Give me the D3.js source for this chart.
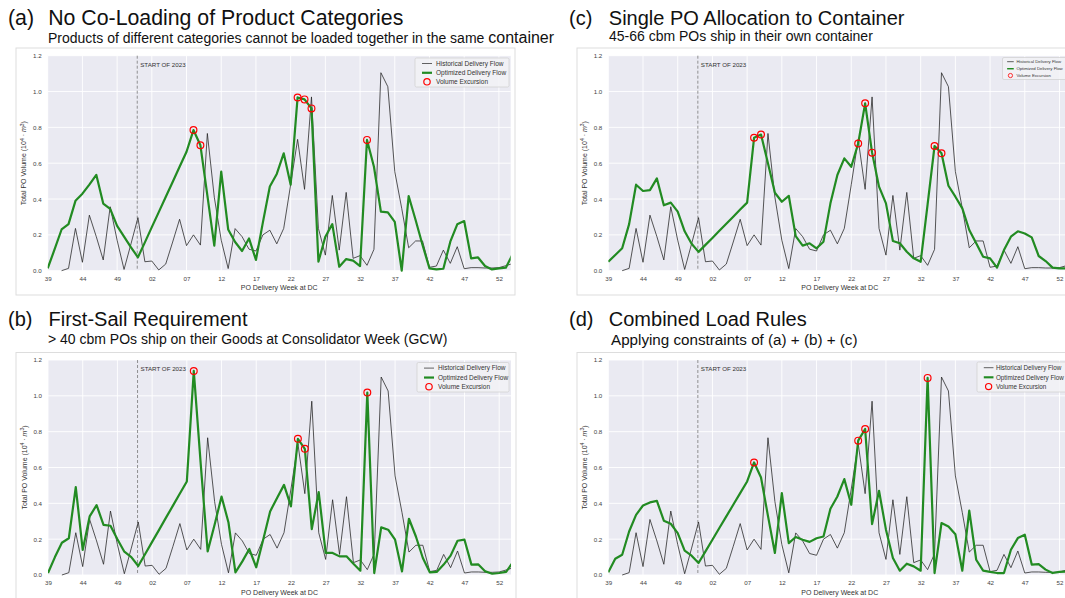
<!DOCTYPE html>
<html>
<head>
<meta charset="utf-8">
<script src="https://cdn.jsdelivr.net/npm/d3@7"></script>
<style>
  body { margin: 0; background: #fff; }
  text { font-family: "Liberation Sans", Arial, sans-serif; }
</style>
</head>
<body>
<svg id="chart" width="1065" height="598"></svg>
<script>
// x axis: weekly index, week 39 of 2022 = 0. labels every 5th week
let tickLabels = ["39", "44", "49", "02", "07", "12", "17", "22", "27", "32", "37", "42", "47", "52"];
let yTicks = [0, 0.2, 0.4, 0.6, 0.8, 1.0, 1.2];
let startOf2023 = 12.9;

// historical delivery flow (same in every panel), 10^4 m3
let historical = [null, null, 0.0, 0.013, 0.236, 0.047, 0.31, 0.19, 0.06, 0.357,
  0.17, 0.007, 0.15, 0.296, 0.05, 0.054, 0.004, 0.037, 0.16, 0.287,
  0.14, 0.2, 0.143, 0.766, 0.41, 0.17, 0.012, 0.235, 0.19, 0.12,
  0.11, 0.2, 0.226, 0.15, 0.236, 0.48, 0.733, 0.454, 0.97, 0.236,
  0.087, 0.42, 0.115, 0.437, 0.069, 0.084, 0.03, 0.119, 1.105, 1.027,
  0.553, 0.348, 0.128, 0.166, 0.166, 0.019, 0.026, 0.115, 0.041, 0.134,
  0.011, 0.017, 0.017, 0.015, 0.015, 0.017, 0.028, 0.04];

// optimized delivery flow per scenario
let optA = [0.013, 0.12, 0.23, 0.26, 0.39, 0.43, 0.48, 0.535, 0.375, 0.345,
  0.25, 0.19, 0.13, 0.075, 0.158, 0.243, 0.327, 0.411, 0.495, 0.58,
  0.664, 0.785, 0.70, 0.42, 0.14, 0.553, 0.23, 0.16, 0.11, 0.18,
  0.06, 0.27, 0.47, 0.54, 0.655, 0.48, 0.967, 0.956, 0.906, 0.05,
  0.19, 0.26, 0.022, 0.065, 0.056, 0.026, 0.73, 0.58, 0.33, 0.326,
  0.273, 0.0, 0.417, 0.283, 0.143, 0.013, 0.007, 0.011, 0.162, 0.259,
  0.277, 0.069, 0.074, 0.026, 0.007, 0.013, 0.017, 0.093];

let optB = [0.011, 0.1, 0.18, 0.205, 0.49, 0.14, 0.327, 0.39, 0.28, 0.275,
  0.2, 0.13, 0.1, 0.05, 0.117, 0.185, 0.252, 0.32, 0.387, 0.455,
  0.522, 1.139, 0.62, 0.132, 0.28, 0.438, 0.293, 0.015, 0.076, 0.145,
  0.043, 0.197, 0.355, 0.43, 0.503, 0.383, 0.76, 0.704, 0.256, 0.463,
  0.123, 0.123, 0.104, 0.104, 0.063, 0.024, 1.018, 0.011, 0.266, 0.253,
  0.197, 0.02, 0.314, 0.215, 0.095, 0.015, 0.017, 0.058, 0.108, 0.191,
  0.197, 0.058, 0.059, 0.02, 0.007, 0.011, 0.017, 0.073];

let optC = [0.05, 0.088, 0.125, 0.26, 0.48, 0.445, 0.45, 0.515, 0.365, 0.38,
  0.33, 0.22, 0.15, 0.105, 0.144, 0.183, 0.223, 0.262, 0.301, 0.341,
  0.38, 0.742, 0.76, 0.6, 0.435, 0.385, 0.418, 0.193, 0.14, 0.153,
  0.125, 0.162, 0.376, 0.534, 0.627, 0.58, 0.71, 0.934, 0.659, 0.469,
  0.376, 0.166, 0.153, 0.106, 0.069, 0.05, 0.37, 0.696, 0.655, 0.474,
  0.413, 0.348, 0.227, 0.153, 0.078, 0.069, 0.017, 0.115, 0.19, 0.22,
  0.208, 0.186, 0.082, 0.054, 0.017, 0.013, 0.013, 0.02];

let optD = [0.015, 0.091, 0.113, 0.243, 0.336, 0.388, 0.405, 0.414, 0.303, 0.286,
  0.234, 0.136, 0.108, 0.067, 0.132, 0.197, 0.262, 0.327, 0.392, 0.457,
  0.522, 0.628, 0.544, 0.33, 0.123, 0.457, 0.178, 0.212, 0.197, 0.185,
  0.205, 0.215, 0.37, 0.438, 0.535, 0.392, 0.75, 0.815, 0.284, 0.47,
  0.253, 0.095, 0.024, 0.063, 0.048, 0.024, 1.1, 0.011, 0.29, 0.271,
  0.228, 0.024, 0.359, 0.085, 0.024, 0.017, 0.011, 0.011, 0.141, 0.206,
  0.225, 0.058, 0.061, 0.03, 0.011, 0.017, 0.02, 0.04];

// weeks flagged as volume excursions
let excA = [21, 22, 36, 37, 38, 46];
let excB = [21, 36, 37, 46];
let excC = [21, 22, 36, 37, 38, 47, 48];
let excD = [21, 36, 37, 46];

let legendLabels = ["Historical Delivery Flow", "Optimized Delivery Flow", "Volume Excursion"];

let panels = [
  {tag: "(a)", title: "No Co-Loading of Product Categories", titleFs: 21.3,
   sub: "Products of different categories cannot be loaded together in the same ", subBig: "container",
   opt: optA, exc: excA, left: 47.7, top: 55.7, box: [16, 48, 499, 247], titleY: 25, subY: 43, subFs: 14, subX: 48,
   legend: {x: 415, y: 58, w: 94, h: 29, fs: 6.5, tx: 21}},
  {tag: "(b)", title: "First-Sail Requirement", titleFs: 20,
   sub: "> 40 cbm POs ship on their Goods at Consolidator Week (GCW)", subBig: "",
   opt: optB, exc: excB, left: 48, top: 360, box: [16, 352.5, 500, 250], titleY: 326, subY: 344, subFs: 14, subX: 48,
   legend: {x: 417, y: 362.5, w: 92, h: 29.5, fs: 6.5, tx: 21}},
  {tag: "(c)", title: "Single PO Allocation to Container", titleFs: 20,
   sub: "45-66 cbm POs ship in their own container", subBig: "",
   opt: optC, exc: excC, left: 608.3, top: 55.7, box: [577, 48, 499, 247], titleY: 25, subY: 40.5, subFs: 14, subX: 609,
   legend: {x: 1002.5, y: 57.5, w: 70, h: 22, fs: 4.3, tx: 21}},
  {tag: "(d)", title: "Combined Load Rules", titleFs: 20,
   sub: "Applying constraints of (a) + (b) + (c)", subBig: "",
   opt: optD, exc: excD, left: 608.3, top: 360, box: [577, 352.5, 499, 250], titleY: 326, subY: 344.5, subFs: 15.2, subX: 611,
   legend: {x: 977, y: 362, w: 94, h: 30, fs: 6.3, tx: 19.5}}
];

let svg = d3.select("#chart");
let plotW = 463, plotH = 215;
let xMax = 66.7;
let green = "#228b22";

panels.forEach((p, k) => {
  // headline
  svg.append("text").attr("x", p.box[0] - 8).attr("y", p.titleY)
    .attr("font-size", p.titleFs).attr("fill", "#111").text(p.tag);
  svg.append("text").attr("x", p.left + 0.5).attr("y", p.titleY)
    .attr("font-size", p.titleFs).attr("fill", "#111").text(p.title);
  let st = svg.append("text").attr("x", p.subX).attr("y", p.subY)
    .attr("font-size", p.subFs).attr("fill", "#111");
  st.append("tspan").text(p.sub);
  if (p.subBig) st.append("tspan").attr("font-size", 16).text(p.subBig);

  let g = svg.append("g");

  // frame of the subplot image
  g.append("rect")
    .attr("x", p.box[0]).attr("y", p.box[1])
    .attr("width", p.box[2]).attr("height", p.box[3])
    .attr("fill", "#fff").attr("stroke", "#dddddd");

  let xScale = d3.scaleLinear().domain([0, xMax]).range([p.left, p.left + plotW]);
  let yScale = d3.scaleLinear().domain([0, 1.2]).range([p.top + plotH, p.top]);

  g.append("clipPath").attr("id", "clip" + k)
    .append("rect")
    .attr("x", p.left).attr("y", p.top - 6)
    .attr("width", plotW).attr("height", plotH + 12);

  g.append("rect")
    .attr("x", p.left).attr("y", p.top)
    .attr("width", plotW).attr("height", plotH)
    .attr("fill", "#eaeaf2");

  let xTickVals = tickLabels.map((d, i) => i * 5);

  // grid
  g.selectAll(".vgrid").data(xTickVals).enter().append("line")
    .attr("x1", d => xScale(d)).attr("x2", d => xScale(d))
    .attr("y1", p.top).attr("y2", p.top + plotH)
    .attr("stroke", "#fff").attr("stroke-width", 0.9);
  g.selectAll(".hgrid").data(yTicks).enter().append("line")
    .attr("x1", p.left).attr("x2", p.left + plotW)
    .attr("y1", d => yScale(d)).attr("y2", d => yScale(d))
    .attr("stroke", "#fff").attr("stroke-width", 0.9);

  // start of 2023 marker
  g.append("line")
    .attr("x1", xScale(startOf2023)).attr("x2", xScale(startOf2023))
    .attr("y1", p.top).attr("y2", p.top + plotH)
    .attr("stroke", "#777").attr("stroke-width", 0.8)
    .attr("stroke-dasharray", "3,2");
  g.append("text")
    .attr("x", xScale(startOf2023) + 3).attr("y", p.top + 11)
    .attr("font-size", 6.2).attr("fill", "#333")
    .text("START OF 2023");

  let lines = g.append("g").attr("clip-path", "url(#clip" + k + ")");

  let lineGen = d3.line()
    .defined(d => d != null)
    .x((d, i) => xScale(i))
    .y(d => yScale(d));

  lines.append("path").datum(historical)
    .attr("d", lineGen)
    .attr("fill", "none").attr("stroke", "#222")
    .attr("stroke-opacity", 0.85).attr("stroke-width", 0.9);

  lines.append("path").datum(p.opt)
    .attr("d", lineGen)
    .attr("fill", "none").attr("stroke", green)
    .attr("stroke-width", 2.2).attr("stroke-linejoin", "round");

  lines.selectAll("circle").data(p.exc).enter().append("circle")
    .attr("cx", d => xScale(d))
    .attr("cy", d => yScale(p.opt[d]))
    .attr("r", 3.4)
    .attr("fill", "none").attr("stroke", "red").attr("stroke-width", 1.2);

  // axes
  let xAxis = g.append("g")
    .attr("transform", "translate(0," + (p.top + plotH) + ")")
    .call(d3.axisBottom(xScale).tickValues(xTickVals)
      .tickFormat((d, i) => tickLabels[i]).tickSize(0).tickPadding(6));
  let yAxis = g.append("g")
    .attr("transform", "translate(" + p.left + ",0)")
    .call(d3.axisLeft(yScale).tickValues(yTicks)
      .tickFormat(d3.format(".1f")).tickSize(0).tickPadding(6));
  [xAxis, yAxis].forEach(a => {
    a.select(".domain").remove();
    a.selectAll("text").attr("font-size", 6.2).attr("fill", "#444")
      .attr("font-family", "Liberation Sans, Arial, sans-serif");
  });

  g.append("text")
    .attr("x", p.left + plotW / 2).attr("y", p.top + plotH + 19.5)
    .attr("text-anchor", "middle").attr("font-size", 7).attr("fill", "#333")
    .text("PO Delivery Week at DC");

  let yl = g.append("text")
    .attr("transform", "translate(" + (p.left - 21.5) + "," + (p.top + plotH / 2) + ") rotate(-90)")
    .attr("text-anchor", "middle").attr("font-size", 7).attr("fill", "#333");
  yl.append("tspan").text("Total PO Volume (10");
  yl.append("tspan").attr("font-size", 5).attr("dy", -2.5).text("4");
  yl.append("tspan").attr("dy", 2.5).text(" \u00b7 ");
  yl.append("tspan").attr("font-style", "italic").text("m");
  yl.append("tspan").attr("font-size", 5).attr("dy", -2.5).text("3");
  yl.append("tspan").attr("dy", 2.5).text(")");

  // legend
  let L = p.legend, s = L.fs / 6.5;
  let lg = g.append("g");
  lg.append("rect")
    .attr("x", L.x).attr("y", L.y).attr("width", L.w).attr("height", L.h)
    .attr("rx", 1.5)
    .attr("fill", "#f2f2f6").attr("fill-opacity", 0.85)
    .attr("stroke", "#cfcfcf").attr("stroke-width", 0.7);
  let rows = [0.19, 0.51, 0.82].map(f => L.y + L.h * f);
  lg.append("line")
    .attr("x1", L.x + 7 * s).attr("x2", L.x + 17 * s)
    .attr("y1", rows[0]).attr("y2", rows[0])
    .attr("stroke", "#333").attr("stroke-opacity", 0.85).attr("stroke-width", 0.9);
  lg.append("line")
    .attr("x1", L.x + 7 * s).attr("x2", L.x + 17 * s)
    .attr("y1", rows[1]).attr("y2", rows[1])
    .attr("stroke", green).attr("stroke-width", 2.2 * s);
  lg.append("circle")
    .attr("cx", L.x + 12 * s).attr("cy", rows[2]).attr("r", 3.2 * s)
    .attr("fill", "none").attr("stroke", "red").attr("stroke-width", 1.2 * s);
  lg.selectAll(".lt").data(legendLabels).enter().append("text")
    .attr("x", L.x + L.tx * s)
    .attr("y", (d, i) => rows[i])
    .attr("dy", "0.35em")
    .attr("font-size", L.fs).attr("fill", "#333")
    .text(d => d);
});
</script>
</body>
</html>
